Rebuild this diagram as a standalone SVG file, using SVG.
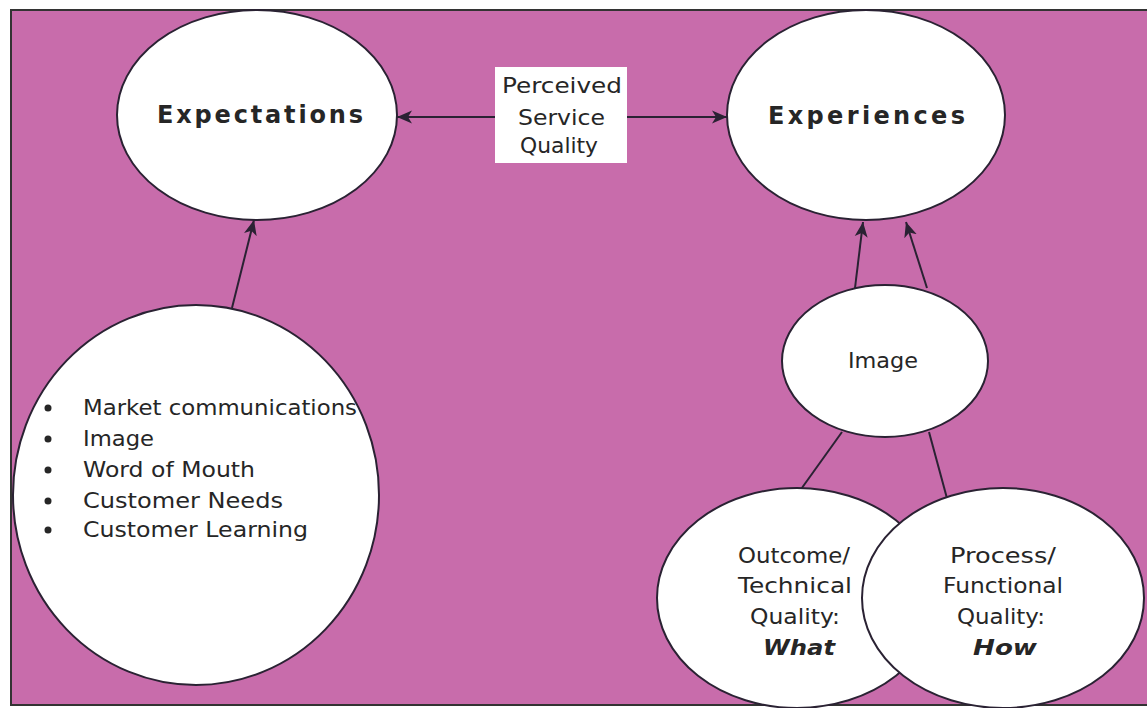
<svg xmlns="http://www.w3.org/2000/svg" width="1147" height="708" viewBox="0 0 1147 708">
  <defs>
    <marker id="arr" markerUnits="userSpaceOnUse" markerWidth="16" markerHeight="14" refX="15" refY="7" orient="auto">
      <path d="M0,0.5 L15,7 L0,13.5 L4,7 Z" fill="#2a2233"/>
    </marker>
    <style>
      .node { fill: #ffffff; stroke: #2a2233; stroke-width: 2; }
      .t { font-family: "DejaVu Sans", "Liberation Sans", Arial, sans-serif; fill: #262626; }
      .big { font-size: 24px; font-weight: bold; }
      .mid { font-size: 21px; }
      .bi { font-size: 21px; font-weight: bold; font-style: italic; }
      .con { stroke: #2a2233; stroke-width: 2; fill: none; }
    </style>
  </defs>
  <rect x="0" y="0" width="1147" height="708" fill="#ffffff"/>
  <rect id="frame" x="11" y="10" width="1140" height="695" fill="#c86cab" stroke="#333333" stroke-width="2"/>

  <g id="connectors">
    <line class="con" x1="495" y1="117" x2="397" y2="117" marker-end="url(#arr)"/>
    <line class="con" x1="627" y1="117" x2="727" y2="117" marker-end="url(#arr)"/>
    <line class="con" x1="232" y1="308" x2="254" y2="220" marker-end="url(#arr)"/>
    <line class="con" x1="855" y1="288" x2="863" y2="222" marker-end="url(#arr)"/>
    <line class="con" x1="927" y1="288" x2="906" y2="222" marker-end="url(#arr)"/>
    <line class="con" x1="842" y1="432" x2="799" y2="492"/>
    <line class="con" x1="929" y1="432" x2="948" y2="502"/>
  </g>

  <g id="expectations">
    <ellipse class="node" cx="257" cy="115" rx="140" ry="105"/>
    <text class="t big" x="157" y="123" textLength="206" lengthAdjust="spacing">Expectations</text>
  </g>

  <g id="experiences">
    <ellipse class="node" cx="866" cy="115" rx="139" ry="105"/>
    <text class="t big" x="768" y="124" textLength="197" lengthAdjust="spacing">Experiences</text>
  </g>

  <g id="perceived">
    <rect x="495" y="67" width="132" height="96" fill="#ffffff"/>
    <text class="t mid" x="502" y="93" textLength="120" lengthAdjust="spacingAndGlyphs">Perceived</text>
    <text class="t mid" x="518" y="125" textLength="87" lengthAdjust="spacingAndGlyphs">Service</text>
    <text class="t mid" x="520" y="153" textLength="78" lengthAdjust="spacingAndGlyphs">Quality</text>
  </g>

  <g id="sources">
    <ellipse class="node" cx="196" cy="495" rx="183" ry="190"/>
    <g fill="#262626">
      <circle cx="48" cy="408" r="3.5"/>
      <circle cx="48" cy="439" r="3.5"/>
      <circle cx="48" cy="470" r="3.5"/>
      <circle cx="48" cy="501" r="3.5"/>
      <circle cx="48" cy="530" r="3.5"/>
    </g>
    <text class="t mid" x="83" y="415" textLength="274" lengthAdjust="spacingAndGlyphs">Market communications</text>
    <text class="t mid" x="83" y="446" textLength="71" lengthAdjust="spacingAndGlyphs">Image</text>
    <text class="t mid" x="83" y="477" textLength="172" lengthAdjust="spacingAndGlyphs">Word of Mouth</text>
    <text class="t mid" x="83" y="508" textLength="200" lengthAdjust="spacingAndGlyphs">Customer Needs</text>
    <text class="t mid" x="83" y="537" textLength="225" lengthAdjust="spacingAndGlyphs">Customer Learning</text>
  </g>

  <g id="image">
    <ellipse class="node" cx="885" cy="361" rx="103" ry="76"/>
    <text class="t mid" x="848" y="368" textLength="70" lengthAdjust="spacingAndGlyphs">Image</text>
  </g>

  <g id="outcome">
    <ellipse class="node" cx="797" cy="598" rx="140" ry="110"/>
    <text class="t mid" x="738" y="563" textLength="112" lengthAdjust="spacingAndGlyphs">Outcome/</text>
    <text class="t mid" x="738" y="593" textLength="114" lengthAdjust="spacingAndGlyphs">Technical</text>
    <text class="t mid" x="750" y="624" textLength="90" lengthAdjust="spacingAndGlyphs">Quality:</text>
    <text class="t bi" x="763" y="655" textLength="72" lengthAdjust="spacingAndGlyphs">What</text>
  </g>

  <g id="process">
    <ellipse class="node" cx="1003" cy="598" rx="141" ry="110"/>
    <text class="t mid" x="950" y="563" textLength="106" lengthAdjust="spacingAndGlyphs">Process/</text>
    <text class="t mid" x="943" y="593" textLength="120" lengthAdjust="spacingAndGlyphs">Functional</text>
    <text class="t mid" x="957" y="624" textLength="88" lengthAdjust="spacingAndGlyphs">Quality:</text>
    <text class="t bi" x="973" y="655" textLength="64" lengthAdjust="spacingAndGlyphs">How</text>
  </g>
</svg>
